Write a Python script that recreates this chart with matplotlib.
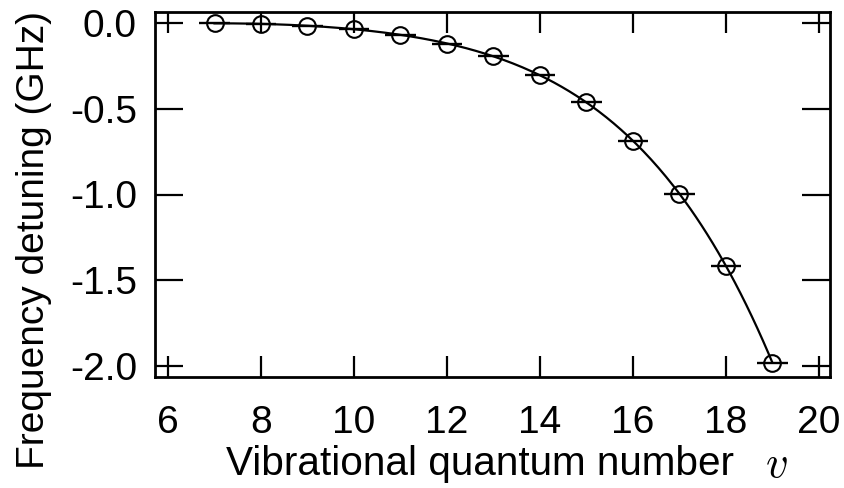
import numpy as np
import matplotlib
matplotlib.use("Agg")
import matplotlib.pyplot as plt

plt.rcParams['font.family'] = ['Liberation Sans', 'DejaVu Sans']

# vibrational quantum number and frequency detuning (GHz)
v = [7, 8, 9, 10, 11, 12, 13, 14, 15, 16, 17, 18, 19]
detuning = [-0.002, -0.006, -0.016, -0.035, -0.07, -0.12, -0.195, -0.305,
            -0.46, -0.69, -0.995, -1.415, -1.98]
v_err = [0.33] * len(v)

xticks = [6, 8, 10, 12, 14, 16, 18, 20]
yticks = [0.0, -0.5, -1.0, -1.5, -2.0]

fig = plt.figure(figsize=(8.45, 4.88), dpi=100)
ax = fig.add_axes([155 / 845, 1 - 377 / 488, 675 / 845, 365 / 488])

# smooth curve through the points (polynomial fit)
coef = np.polyfit(v, detuning, 6)
vs = np.linspace(v[0], v[-1], 300)
ax.plot(vs, np.polyval(coef, vs), color='black', lw=1.6)

ax.errorbar(v, detuning, xerr=v_err, fmt='o', mfc='none', mec='black',
            ecolor='black', ms=12, mew=1.5, elinewidth=1.7, capsize=0)

ax.set_xlim(5.72, 20.24)
ax.set_ylim(-2.064, 0.064)
ax.set_xticks(xticks)
ax.set_yticks(yticks)
ax.set_yticklabels([f"{t:.1f}" for t in yticks])

for s in ax.spines.values():
    s.set_linewidth(2)
ax.tick_params(axis='x', direction='in', length=15, width=1.6, top=True,
               labelsize=28, pad=20)
ax.tick_params(axis='y', direction='in', length=20, width=1.6, right=True,
               labelsize=28, pad=13)

ax.set_xlabel("Vibrational quantum number", fontsize=29.2)
ax.xaxis.set_label_coords(0.482, -0.187)
ax.text(0.921, -0.274, r"$v$", transform=ax.transAxes, fontsize=32,
        ha='center', va='baseline', math_fontfamily='cm')

ax.set_ylabel("Frequency detuning (GHz)", fontsize=28)
ax.yaxis.set_label_coords(-0.152, 0.375)

fig.savefig("out.png", dpi=100)
